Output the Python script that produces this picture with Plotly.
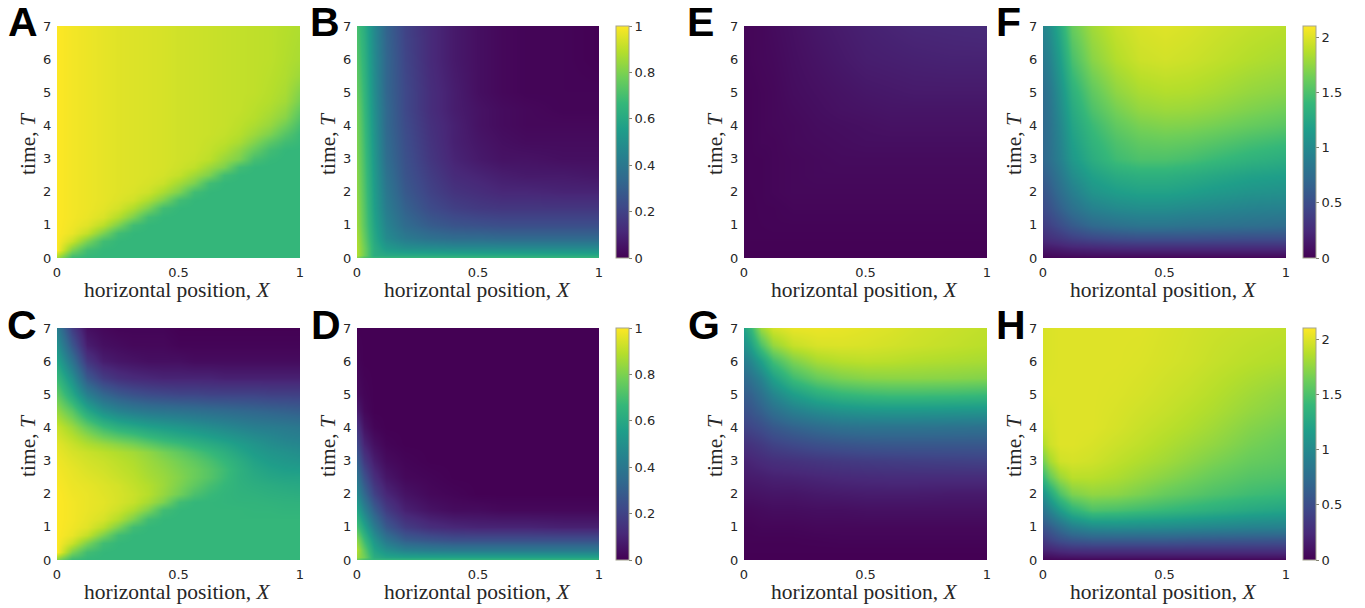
import plotly.graph_objects as go

W, H = 1365, 608
ML, MR, MT, MB = 20, 20, 20, 30
IW, IH = W - ML - MR, H - MT - MB
X_GRID = [0, .03, .07, .12, .2, .3, .4, .5, .6, .7, .85, 1]
X_FINE = [0, .0625, .125, .1875, .25, .3125, .375, .4375, .5, .5625, .625, .6875, .75, .8125, .875, .9375, 1]
T_STD = [0, .1, .3, .6, 1, 1.5, 2, 2.5, 3, 3.5, 4, 4.5, 5, 6, 7]
T_G = [0, .1, .3, .6, 1, 1.5, 2, 2.5, 3, 3.5, 4, 4.5, 5, 5.5, 6, 6.5, 7]
T_A = [0, .25, .5, .75, 1, 1.25, 1.5, 1.75, 2, 2.25, 2.5, 2.75, 3, 3.25, 3.5, 3.75, 4, 4.25, 4.5, 4.75, 5, 5.5, 6, 7]
T_C = [0, .25, .5, .75, 1, 1.25, 1.5, 1.75, 2, 2.25, 2.5, 2.75, 3, 3.25, 3.5, 3.75, 4, 4.5, 5, 5.5, 6, 6.5, 7]

PANEL_A = [
 [.85,.67,.66,.66,.66,.66,.66,.66,.66,.66,.66,.66,.66,.66,.66,.66,.66],
 [1,.80,.69,.665,.66,.66,.66,.66,.66,.66,.66,.66,.66,.66,.66,.66,.66],
 [1,.92,.80,.69,.665,.66,.66,.66,.66,.66,.66,.66,.66,.66,.66,.66,.66],
 [1,.97,.91,.80,.69,.665,.66,.66,.66,.66,.66,.66,.66,.66,.66,.66,.66],
 [1,.98,.955,.895,.80,.69,.665,.66,.66,.66,.66,.66,.66,.66,.66,.66,.66],
 [1,.985,.97,.945,.885,.80,.69,.665,.66,.66,.66,.66,.66,.66,.66,.66,.66],
 [1,.985,.975,.96,.935,.88,.80,.69,.665,.66,.66,.66,.66,.66,.66,.66,.66],
 [1,.985,.975,.965,.95,.93,.875,.80,.69,.665,.66,.66,.66,.66,.66,.66,.66],
 [1,.985,.975,.965,.955,.945,.925,.87,.80,.69,.665,.66,.66,.66,.66,.66,.66],
 [1,.985,.975,.965,.955,.95,.94,.92,.86,.80,.69,.665,.66,.66,.66,.66,.66],
 [1,.985,.975,.965,.955,.95,.945,.935,.91,.855,.80,.69,.665,.66,.66,.66,.66],
 [1,.985,.975,.965,.955,.95,.945,.94,.925,.905,.85,.80,.69,.665,.66,.66,.66],
 [1,.985,.975,.965,.955,.95,.945,.94,.93,.92,.90,.845,.80,.70,.67,.66,.66],
 [1,.985,.975,.965,.955,.95,.945,.94,.93,.925,.91,.88,.83,.76,.69,.665,.66],
 [1,.985,.975,.965,.955,.95,.945,.94,.93,.925,.915,.90,.87,.81,.74,.69,.67],
 [1,.985,.975,.965,.955,.95,.945,.94,.93,.925,.92,.91,.89,.85,.80,.73,.675],
 [1,.985,.975,.965,.955,.95,.945,.94,.93,.925,.92,.915,.90,.875,.84,.78,.70],
 [1,.985,.975,.965,.955,.95,.945,.94,.93,.925,.92,.915,.905,.89,.86,.82,.73],
 [1,.985,.975,.965,.955,.95,.945,.94,.93,.925,.92,.915,.91,.895,.875,.84,.76],
 [1,.985,.975,.965,.955,.95,.945,.94,.93,.925,.92,.915,.91,.90,.885,.86,.79],
 [1,.985,.975,.965,.955,.95,.945,.94,.93,.925,.92,.915,.91,.905,.89,.87,.81],
 [1,.985,.975,.965,.955,.95,.945,.94,.93,.925,.92,.915,.91,.905,.895,.88,.85],
 [1,.985,.975,.965,.955,.95,.945,.94,.93,.925,.92,.915,.91,.905,.90,.885,.87],
 [1,.985,.975,.965,.955,.95,.945,.94,.93,.925,.92,.915,.91,.905,.90,.89,.88],
]
PANEL_B = [
 [.80,.70,.68,.68,.68,.68,.68,.68,.68,.68,.68,.68],
 [.88,.78,.62,.60,.60,.60,.60,.60,.60,.60,.60,.60],
 [.88,.78,.62,.54,.50,.49,.48,.48,.48,.48,.48,.48],
 [.87,.76,.60,.48,.41,.37,.35,.35,.34,.34,.34,.34],
 [.85,.74,.58,.45,.35,.29,.26,.25,.24,.24,.24,.24],
 [.84,.73,.56,.42,.31,.23,.19,.17,.16,.16,.16,.16],
 [.83,.72,.55,.40,.28,.20,.15,.13,.11,.11,.10,.10],
 [.82,.71,.54,.38,.26,.18,.12,.10,.08,.07,.07,.06],
 [.81,.70,.53,.36,.25,.16,.10,.07,.05,.05,.04,.04],
 [.80,.69,.52,.35,.24,.15,.09,.06,.04,.03,.03,.03],
 [.79,.68,.51,.34,.23,.14,.09,.05,.03,.02,.02,.02],
 [.78,.67,.50,.34,.22,.13,.08,.05,.03,.02,.01,.01],
 [.76,.66,.49,.33,.22,.13,.08,.04,.02,.01,.01,.01],
 [.73,.64,.48,.33,.21,.12,.07,.04,.02,.01,.01,0],
 [.70,.62,.47,.32,.20,.12,.07,.04,.02,.01,.01,0],
]
PANEL_C = [
 [.80,.67,.66,.66,.66,.66,.66,.66,.66,.66,.66,.66,.66,.66,.66,.66,.66],
 [1,.80,.69,.665,.66,.66,.66,.66,.66,.66,.66,.66,.66,.66,.66,.66,.66],
 [1,.92,.80,.69,.665,.66,.66,.66,.66,.66,.66,.66,.66,.66,.66,.66,.66],
 [1,.97,.91,.80,.69,.665,.66,.66,.66,.66,.66,.66,.66,.66,.66,.66,.66],
 [1,.98,.955,.895,.80,.69,.665,.66,.66,.66,.66,.66,.66,.66,.66,.66,.66],
 [1,.985,.965,.94,.885,.80,.69,.665,.66,.66,.66,.66,.66,.66,.66,.66,.66],
 [1,.985,.97,.955,.925,.875,.80,.69,.665,.66,.66,.66,.66,.655,.655,.65,.65],
 [1,.985,.97,.96,.94,.915,.865,.80,.69,.665,.66,.655,.65,.65,.645,.64,.64],
 [1,.98,.97,.955,.94,.92,.89,.84,.78,.71,.675,.655,.645,.64,.63,.625,.62],
 [.995,.975,.965,.95,.935,.91,.885,.85,.80,.75,.70,.665,.64,.625,.615,.605,.60],
 [.99,.97,.955,.94,.92,.90,.87,.845,.81,.77,.73,.68,.635,.61,.59,.58,.58],
 [.985,.965,.945,.93,.91,.89,.86,.835,.80,.77,.73,.685,.635,.595,.57,.555,.55],
 [.98,.955,.935,.92,.90,.88,.85,.82,.785,.75,.71,.665,.62,.575,.545,.53,.52],
 [.97,.94,.92,.90,.88,.86,.83,.79,.75,.71,.67,.63,.585,.545,.52,.505,.49],
 [.96,.92,.88,.85,.82,.79,.75,.71,.68,.645,.615,.585,.55,.52,.49,.47,.46],
 [.94,.89,.83,.77,.73,.70,.66,.63,.60,.58,.555,.53,.505,.48,.46,.44,.43],
 [.92,.85,.76,.68,.63,.60,.57,.55,.53,.51,.49,.47,.45,.43,.42,.41,.40],
 [.84,.74,.60,.50,.45,.42,.40,.39,.38,.37,.36,.35,.34,.33,.32,.31,.30],
 [.75,.60,.43,.33,.28,.25,.23,.22,.21,.21,.20,.20,.20,.20,.19,.19,.19],
 [.67,.50,.28,.18,.14,.12,.11,.10,.10,.10,.10,.09,.09,.09,.09,.09,.09],
 [.58,.38,.16,.08,.06,.05,.04,.04,.04,.03,.03,.03,.03,.03,.03,.03,.03],
 [.50,.27,.08,.04,.03,.02,.02,.02,.01,.01,.01,.01,.01,.01,.01,.01,.01],
 [.42,.18,.04,.02,.01,.01,.01,.01,0,0,0,0,0,0,0,0,0],
]
PANEL_D = [
 [.75,.68,.67,.67,.67,.67,.67,.67,.67,.67,.67,.67],
 [.85,.78,.62,.58,.57,.57,.57,.57,.57,.57,.57,.57],
 [.88,.75,.58,.50,.44,.42,.41,.41,.41,.41,.41,.41],
 [.82,.68,.52,.40,.30,.27,.25,.25,.25,.25,.25,.25],
 [.70,.58,.42,.28,.18,.13,.11,.10,.10,.10,.09,.09],
 [.58,.45,.30,.18,.09,.05,.03,.03,.02,.02,.02,.02],
 [.47,.34,.20,.11,.05,.02,.01,0,0,0,0,0],
 [.38,.25,.13,.06,.02,.01,0,0,0,0,0,0],
 [.30,.17,.08,.03,.01,0,0,0,0,0,0,0],
 [.22,.10,.04,.01,0,0,0,0,0,0,0,0],
 [.15,.05,.01,0,0,0,0,0,0,0,0,0],
 [.08,.02,0,0,0,0,0,0,0,0,0,0],
 [.03,.01,0,0,0,0,0,0,0,0,0,0],
 [.01,0,0,0,0,0,0,0,0,0,0,0],
 [0,0,0,0,0,0,0,0,0,0,0,0],
]
PANEL_E = [
 [0,0,0,0,0,0,0,0,0,0,0,0],
 [0,0,0,0,0,0,0,0,0,0,0,0],
 [.005,.005,.005,.005,.005,.005,.005,.005,.005,.005,.005,.005],
 [.01,.01,.01,.01,.01,.01,.01,.01,.01,.01,.01,.01],
 [.01,.01,.015,.02,.02,.02,.02,.02,.02,.02,.02,.02],
 [.01,.01,.02,.02,.03,.03,.03,.03,.03,.03,.03,.03],
 [.01,.015,.02,.03,.04,.04,.04,.04,.04,.04,.04,.04],
 [.01,.02,.02,.03,.04,.05,.05,.05,.05,.05,.05,.05],
 [.01,.02,.02,.03,.04,.05,.06,.06,.06,.06,.06,.06],
 [.02,.02,.03,.03,.05,.06,.07,.08,.08,.08,.08,.08],
 [.02,.02,.03,.04,.05,.07,.08,.09,.10,.10,.10,.10],
 [.02,.02,.03,.04,.06,.08,.10,.11,.12,.12,.12,.12],
 [.02,.02,.03,.04,.07,.09,.11,.13,.14,.15,.15,.15],
 [.02,.03,.04,.05,.08,.11,.14,.17,.18,.19,.20,.20],
 [.03,.03,.04,.06,.09,.13,.16,.19,.21,.23,.24,.25],
]
PANEL_F = [
 [.01,.01,.01,.01,.01,.01,.01,.01,.01,.01,.01,.01],
 [.05,.06,.07,.08,.09,.09,.09,.09,.09,.09,.09,.09],
 [.14,.15,.17,.20,.22,.24,.25,.25,.25,.25,.25,.25],
 [.26,.30,.34,.40,.46,.50,.52,.52,.52,.51,.50,.50],
 [.38,.42,.50,.60,.72,.78,.82,.82,.80,.79,.77,.75],
 [.48,.54,.65,.78,.93,1.0,1.03,1.03,1.0,.98,.94,.92],
 [.55,.62,.75,.90,1.08,1.16,1.2,1.2,1.17,1.13,1.08,1.05],
 [.63,.70,.84,1.02,1.19,1.29,1.33,1.33,1.3,1.26,1.2,1.17],
 [.70,.78,.92,1.12,1.30,1.44,1.50,1.50,1.47,1.42,1.35,1.30],
 [.71,.79,.95,1.17,1.36,1.50,1.58,1.60,1.58,1.54,1.47,1.42],
 [.72,.80,.98,1.22,1.42,1.58,1.67,1.70,1.69,1.66,1.60,1.55],
 [.73,.82,1.02,1.27,1.50,1.66,1.76,1.79,1.78,1.75,1.69,1.64],
 [.75,.85,1.06,1.33,1.57,1.74,1.83,1.86,1.85,1.82,1.76,1.72],
 [.85,.95,1.17,1.48,1.72,1.86,1.94,1.96,1.94,1.91,1.86,1.82],
 [.95,1.05,1.28,1.60,1.80,1.92,1.98,2.0,1.98,1.95,1.91,1.88],
]
PANEL_G = [
 [0,0,0,0,0,0,0,0,0,0,0,0],
 [0,0,0,0,0,0,0,0,0,0,0,0],
 [.005,.005,.005,.005,.005,.005,.005,.005,.005,.005,.005,.005],
 [.01,.01,.01,.01,.01,.015,.02,.02,.02,.02,.02,.02],
 [.02,.02,.03,.03,.03,.04,.04,.04,.04,.04,.04,.04],
 [.05,.05,.06,.07,.07,.08,.08,.09,.09,.09,.09,.09],
 [.10,.10,.11,.12,.12,.14,.15,.16,.16,.16,.15,.15],
 [.15,.16,.17,.19,.20,.22,.24,.25,.26,.26,.26,.26],
 [.20,.22,.25,.28,.30,.33,.35,.37,.38,.39,.40,.41],
 [.30,.32,.36,.42,.47,.52,.55,.57,.58,.58,.58,.58],
 [.42,.45,.50,.58,.66,.73,.78,.80,.80,.80,.79,.78],
 [.52,.56,.64,.76,.90,1.0,1.06,1.09,1.10,1.10,1.09,1.08],
 [.62,.66,.78,.96,1.16,1.31,1.39,1.43,1.45,1.45,1.44,1.42],
 [.72,.80,.94,1.18,1.44,1.60,1.68,1.72,1.73,1.73,1.72,1.70],
 [.88,.98,1.18,1.45,1.68,1.82,1.87,1.89,1.88,1.86,1.84,1.82],
 [1.05,1.20,1.50,1.76,1.92,1.98,1.99,1.98,1.96,1.94,1.91,1.88],
 [1.20,1.40,1.78,1.96,2.03,2.04,2.03,2.01,1.99,1.96,1.93,1.90],
]
PANEL_H = [
 [.02,.02,.02,.02,.02,.02,.02,.02,.02,.02,.02,.02],
 [.07,.08,.10,.11,.12,.12,.12,.12,.12,.12,.12,.12],
 [.20,.22,.26,.29,.30,.30,.30,.30,.30,.30,.30,.30],
 [.35,.42,.50,.56,.60,.60,.60,.60,.58,.57,.56,.55],
 [.55,.62,.75,.90,1.0,1.02,1.01,1.0,.98,.96,.93,.92],
 [.80,.95,1.15,1.35,1.5,1.48,1.44,1.4,1.36,1.32,1.26,1.22],
 [1.05,1.25,1.50,1.68,1.75,1.73,1.67,1.6,1.55,1.5,1.44,1.40],
 [1.40,1.60,1.78,1.88,1.88,1.84,1.78,1.72,1.66,1.6,1.53,1.5],
 [1.65,1.82,1.95,1.97,1.95,1.9,1.85,1.8,1.74,1.68,1.6,1.56],
 [1.85,1.95,2.0,2.0,1.98,1.94,1.9,1.85,1.8,1.75,1.66,1.6],
 [1.95,1.97,2.0,2.0,2.0,1.97,1.93,1.89,1.85,1.8,1.71,1.65],
 [1.96,1.98,2.0,2.0,2.0,1.98,1.95,1.92,1.88,1.84,1.76,1.7],
 [1.98,2.0,2.0,2.0,2.0,1.99,1.97,1.94,1.91,1.87,1.8,1.74],
 [1.98,1.99,2.0,2.0,2.0,2.0,1.99,1.97,1.95,1.92,1.88,1.85],
 [1.98,1.99,2.0,2.0,2.0,2.0,2.0,1.98,1.96,1.94,1.92,1.90],
]

X_TICKS = [0, .5, 1]
X_TICK_TEXT = ["0", "0.5", "1"]
T_TICKS = [0, 1, 2, 3, 4, 5, 6, 7]
CB_TICKS_1 = [0, .2, .4, .6, .8, 1]
CB_TICK_TEXT_1 = ["0", "0.2", "0.4", "0.6", "0.8", "1"]
CB_TICKS_2 = [0, .5, 1, 1.5, 2]
CB_TICK_TEXT_2 = ["0", "0.5", "1", "1.5", "2"]
X_TITLE = "horizontal position, <i>X</i>"
T_TITLE = "time, <i>T</i>"
TICK_FONT = dict(family="DejaVu Sans", size=13, color="#262626")
TITLE_FONT = dict(family="Liberation Serif", size=21.5, color="#262626")


def px(v):
    return (v - ML) / IW


def py(v):
    return 1 - (v - MT) / IH


# label, z, x grid, t grid, plot left/right px, plot top/bottom px, zmax, colorbar left px, label px
PANELS = [
 ("A", PANEL_A, X_FINE, T_A, 57, 300, 26, 258, 1.0, None, 7, 22),
 ("B", PANEL_B, X_GRID, T_STD, 357, 599, 26, 258, 1.0, 616, 309, 22),
 ("C", PANEL_C, X_FINE, T_C, 57, 300, 328, 560, 1.0, None, 6, 325),
 ("D", PANEL_D, X_GRID, T_STD, 357, 599, 328, 560, 1.0, 616, 310, 325),
 ("E", PANEL_E, X_GRID, T_STD, 744, 987, 26, 258, 2.1, None, 686, 22),
 ("F", PANEL_F, X_GRID, T_STD, 1043, 1286, 26, 258, 2.1, 1303, 995, 22),
 ("G", PANEL_G, X_GRID, T_G, 744, 987, 328, 560, 2.1, None, 687, 325),
 ("H", PANEL_H, X_GRID, T_STD, 1043, 1286, 328, 560, 2.1, 1303, 995, 325),
]

fig = go.Figure()
annotations = []
layout = {}
for i, (lab, z, xg, t, x0, x1, y0, y1, zmax, cb, lx, ly) in enumerate(PANELS, start=1):
    trace = go.Heatmap(
        x=xg, y=t, z=z, zmin=0, zmax=zmax, colorscale="Viridis", zsmooth="best",
        xaxis=f"x{i}", yaxis=f"y{i}", showscale=cb is not None,
    )
    if cb is not None:
        ticks, text = (CB_TICKS_1, CB_TICK_TEXT_1) if zmax == 1.0 else (CB_TICKS_2, CB_TICK_TEXT_2)
        trace.colorbar = dict(
            x=px(cb), xanchor="left", xpad=0, ypad=0, y=py(y1), yanchor="bottom",
            len=(y1 - y0) / IH, lenmode="fraction", thickness=13, thicknessmode="pixels",
            tickvals=ticks, ticktext=text, tickfont=TICK_FONT, ticks="outside", ticklen=3,
            tickcolor="#808070", outlinecolor="#a3a390", outlinewidth=1,
        )
    fig.add_trace(trace)
    layout[f"xaxis{i}"] = dict(
        domain=[px(x0), px(x1)], range=[0, 1], anchor=f"y{i}", tickvals=X_TICKS,
        ticktext=X_TICK_TEXT, tickfont=TICK_FONT, ticks="outside", ticklen=2,
        tickcolor="rgba(0,0,0,0)", showgrid=False, zeroline=False,
    )
    layout[f"yaxis{i}"] = dict(
        domain=[py(y1), py(y0)], range=[0, 7], anchor=f"x{i}", tickvals=T_TICKS,
        tickfont=TICK_FONT, ticks="outside", ticklen=2, tickcolor="rgba(0,0,0,0)",
        showgrid=False, zeroline=False,
    )
    annotations.append(dict(
        text=f"<b>{lab}</b>", x=px(lx), y=py(ly), xref="paper", yref="paper",
        xanchor="left", yanchor="middle", showarrow=False, xshift=-1,
        font=dict(family="Liberation Sans", size=41, color="black"),
    ))
    annotations.append(dict(
        text=X_TITLE, x=px((x0 + x1) / 2 - 1), y=py(y1 + 32), xref="paper", yref="paper",
        xanchor="center", yanchor="middle", showarrow=False, font=TITLE_FONT,
    ))
    annotations.append(dict(
        text=T_TITLE, x=px(x0 - 29), y=py((y0 + y1) / 2 + 2), xref="paper", yref="paper",
        xanchor="center", yanchor="middle", showarrow=False, font=TITLE_FONT, textangle=-90,
    ))

fig.update_layout(
    width=W, height=H, margin=dict(l=ML, r=MR, t=MT, b=MB), paper_bgcolor="white",
    plot_bgcolor="white", annotations=annotations, **layout,
)
fig.write_html("out.html", post_script="document.body.style.margin='0';",
               config=dict(displayModeBar=False))
